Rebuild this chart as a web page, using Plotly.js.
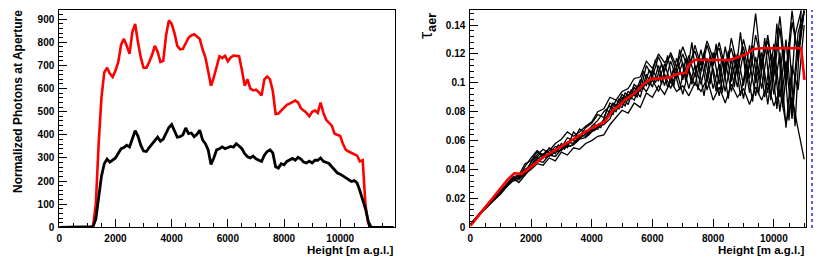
<!DOCTYPE html>
<html>
<head>
<meta charset="utf-8">
<script src="https://cdn.plot.ly/plotly-3.0.1.min.js"></script>
<style>
html,body{margin:0;padding:0;background:#fff;}
#plot{width:822px;height:261px;}
</style>
</head>
<body>
<div id="plot"></div>
<script>
// ---------- Left panel: normalized photons vs height ----------
const photonHeight = [
0,100,200,300,400,500,600,700,800,900,1000,1100,
1200,1300,1400,1500,1600,1700,1800,1900,2000,2100,
2200,2300,2400,2500,2600,2700,2800,2900,3000,3100,
3200,3300,3400,3500,3600,3700,3800,3900,4000,4100,
4200,4300,4400,4500,4600,4700,4800,4900,5000,5100,
5200,5300,5400,5500,5600,5700,5800,5900,6000,6100,
6200,6300,6400,6500,6600,6700,6800,6900,7000,7100,
7200,7300,7400,7500,7600,7700,7800,7900,8000,8100,
8200,8300,8400,8500,8600,8700,8800,8900,9000,9100,
9200,9300,9400,9500,9600,9700,9800,9900,10000,10100,
10200,10300,10400,10500,10600,10700,10800,10900,11000,11100,
11200,11300,11400,11500,11600,11700,11800,11900
];
const photonsRed = [
0,0,0,0,0,0,0,0,0,0,0,0,
5,100,360,560,670,690,665,650,678,715,
790,815,785,750,845,880,800,735,690,690,
715,745,785,760,715,720,830,895,880,840,
785,770,772,795,820,830,835,825,815,770,
735,675,612,648,690,740,732,742,718,735,
743,742,740,680,612,640,600,592,595,585,
570,640,652,640,590,490,492,505,520,530,
535,542,548,540,515,505,495,480,500,505,
495,540,495,465,452,440,405,400,395,360,
335,328,322,318,310,285,290,95,15,0,
0,0,0,0,0,0,0,0
];
const photonsBlack = [
0,0,0,0,0,0,0,0,0,0,0,0,
3,35,120,220,275,295,282,292,300,320,
340,345,355,348,380,418,395,355,330,328,
345,362,375,390,372,382,410,432,445,415,
390,392,400,430,405,408,392,402,420,378,
362,335,272,300,335,340,348,340,345,350,
347,362,352,340,318,305,300,308,296,290,
285,312,328,335,322,262,256,275,270,285,
292,298,290,303,295,282,278,286,278,290,
290,300,285,282,276,262,248,235,230,222,
212,205,198,202,192,158,120,80,25,0,
0,0,0,0,0,0,0,0
];

// ---------- Right panel: tau_aer vs height ----------
const tauHeight = [
0,200,400,600,800,1000,1200,1400,1600,1800,
2000,2200,2400,2600,2800,3000,3200,3400,3600,3800,
4000,4200,4400,4600,4800,5000,5200,5400,5600,5800,
6000,6200,6400,6600,6800,7000,7200,7400,7600,7800,
8000,8200,8400,8600,8800,9000,9200,9400,9600,9800,
10000,10200,10400,10600,10800,11000
];
const tauHeightOdd = [
100,300,500,700,900,1100,1300,1500,1700,1900,
2100,2300,2500,2700,2900,3100,3300,3500,3700,3900,
4100,4300,4500,4700,4900,5100,5300,5500,5700,5900,
6100,6300,6500,6700,6900,7100,7300,7500,7700,7900,
8100,8300,8500,8700,8900,9100,9300,9500,9700,9900,
10100,10300,10500,10700,10900
];
const tauA = [
0.002,0.007,0.012,0.017,0.021,0.025,0.030,0.035,0.036,0.044,
0.046,0.052,0.049,0.055,0.051,0.058,0.055,0.066,0.062,0.069,
0.072,0.078,0.076,0.086,0.083,0.092,0.088,0.099,0.094,0.112,
0.104,0.118,0.108,0.121,0.111,0.125,0.113,0.122,0.108,0.126,
0.112,0.128,0.110,0.124,0.106,0.130,0.112,0.148,0.109,0.133,
0.104,0.138,0.098,0.142,0.120,0.150
];
const tauB = [
0.002,0.006,0.011,0.015,0.019,0.023,0.028,0.032,0.033,0.037,
0.040,0.044,0.043,0.048,0.046,0.052,0.050,0.055,0.054,0.058,
0.060,0.063,0.064,0.071,0.076,0.081,0.079,0.086,0.083,0.093,
0.090,0.098,0.092,0.101,0.094,0.098,0.091,0.100,0.094,0.103,
0.088,0.097,0.086,0.099,0.090,0.096,0.085,0.097,0.088,0.100,
0.084,0.095,0.072,0.090,0.068,0.047
];
const tauC = [
0.002,0.007,0.011,0.016,0.020,0.024,0.029,0.034,0.035,0.040,
0.043,0.047,0.051,0.049,0.054,0.053,0.059,0.058,0.064,0.063,
0.068,0.068,0.074,0.079,0.088,0.085,0.094,0.091,0.102,0.098,
0.109,0.101,0.113,0.100,0.117,0.102,0.119,0.104,0.123,0.102,
0.121,0.099,0.125,0.101,0.120,0.098,0.126,0.100,0.121,0.093,
0.127,0.090,0.130,0.080,0.135,0.150
];
const tauD = [
0.002,0.006,0.011,0.016,0.020,0.024,0.028,0.033,0.034,0.038,
0.045,0.050,0.054,0.051,0.056,0.055,0.062,0.060,0.068,0.065,
0.070,0.074,0.080,0.084,0.080,0.090,0.085,0.097,0.090,0.106,
0.097,0.112,0.098,0.115,0.103,0.114,0.096,0.112,0.099,0.117,
0.096,0.113,0.094,0.116,0.097,0.121,0.093,0.118,0.096,0.124,
0.092,0.121,0.069,0.112,0.095,0.140
];
const tauE = [
0.002,0.007,0.012,0.016,0.021,0.025,0.029,0.034,0.031,0.036,
0.041,0.046,0.045,0.050,0.049,0.054,0.056,0.057,0.061,0.062,
0.066,0.070,0.071,0.075,0.085,0.083,0.092,0.088,0.099,0.094,
0.102,0.094,0.106,0.096,0.108,0.092,0.109,0.098,0.117,0.095,
0.110,0.091,0.115,0.094,0.112,0.089,0.114,0.091,0.117,0.085,
0.118,0.080,0.115,0.075,0.125,0.150
];
const tauF = [
0.002,0.006,0.011,0.015,0.020,0.024,0.029,0.033,0.034,0.042,
0.048,0.053,0.050,0.053,0.058,0.061,0.066,0.063,0.066,0.070,
0.073,0.080,0.082,0.090,0.088,0.094,0.096,0.103,0.104,0.115,
0.110,0.120,0.114,0.119,0.107,0.120,0.108,0.126,0.112,0.129,
0.117,0.124,0.105,0.131,0.111,0.125,0.103,0.133,0.114,0.129,
0.110,0.146,0.105,0.150,0.115,0.150
];
const tauG = [
0.004,0.009,0.014,0.018,0.022,0.027,0.031,0.035,0.037,0.041,
0.049,0.047,0.053,0.050,0.057,0.054,0.061,0.059,0.066,0.064,
0.071,0.069,0.081,0.078,0.089,0.084,0.095,0.090,0.108,0.098,
0.116,0.099,0.119,0.097,0.123,0.101,0.128,0.095,0.121,0.099,
0.127,0.093,0.122,0.097,0.135,0.100,0.126,0.092,0.131,0.088,
0.141,0.083,0.128,0.070,0.150
];
const tauH = [
0.004,0.009,0.013,0.018,0.022,0.026,0.031,0.034,0.036,0.039,
0.046,0.051,0.048,0.054,0.052,0.057,0.056,0.060,0.063,0.066,
0.067,0.072,0.077,0.086,0.082,0.093,0.089,0.098,0.096,0.109,
0.100,0.113,0.097,0.110,0.095,0.117,0.099,0.114,0.091,0.119,
0.094,0.118,0.089,0.121,0.091,0.113,0.087,0.122,0.090,0.120,
0.082,0.125,0.074,0.133,0.150
];
const modelHeight = [0,1230,1450,1700,2000,2440,2990,3540,3980,4420,4580,4750,4910,5080,5410,5740,5960,6560,6780,7110,7190,7390,8540,8870,9140,9310,9580,10900,11010];
const modelTau    = [0.001,0.033,0.0374,0.037,0.042,0.049,0.0558,0.0627,0.0685,0.0731,0.0777,0.0824,0.084,0.088,0.0927,0.0997,0.1027,0.1036,0.106,0.107,0.1123,0.1158,0.1158,0.118,0.1204,0.1232,0.1239,0.1239,0.102];

const tauEvenCurves = [tauA, tauB, tauC, tauD, tauE, tauF];
const tauOddCurves = [tauG, tauH];

const FONT = 'Liberation Sans, Arial, Helvetica, sans-serif';

const traces = [];
traces.push({x: photonHeight, y: photonsRed, xaxis:'x', yaxis:'y', mode:'lines',
  line:{color:'#ff0000', width:2.6}, hoverinfo:'skip'});
traces.push({x: photonHeight, y: photonsBlack, xaxis:'x', yaxis:'y', mode:'lines',
  line:{color:'#000000', width:2.8}, hoverinfo:'skip'});
tauEvenCurves.forEach(c => traces.push({x: tauHeight, y: c, xaxis:'x2', yaxis:'y2', mode:'lines',
  line:{color:'#000000', width:1.3}, hoverinfo:'skip'}));
tauOddCurves.forEach(c => traces.push({x: tauHeightOdd, y: c, xaxis:'x2', yaxis:'y2', mode:'lines',
  line:{color:'#000000', width:1.3}, hoverinfo:'skip'}));
traces.push({x: modelHeight, y: modelTau, xaxis:'x2', yaxis:'y2', mode:'lines',
  line:{color:'#ff0000', width:2.6}, hoverinfo:'skip'});

function axisBase(extra){
  return Object.assign({
    showline:true, mirror:true, linecolor:'#000', linewidth:1,
    ticks:'inside', ticklen:8, tickwidth:1, tickcolor:'#000',
    showgrid:false, zeroline:false, ticklabelstandoff:2,
    exponentformat:'none', separatethousands:false,
    tickfont:{family:FONT, size:10, color:'#000', weight:'bold'}
  }, extra);
}

const yDom = [1-227.3/261, 1-10/261];

const layout = {
  width:822, height:261,
  margin:{l:0, r:0, t:0, b:0},
  paper_bgcolor:'#fff', plot_bgcolor:'#fff',
  showlegend:false,
  xaxis: axisBase({domain:[59.3/822, 395/822], range:[0,11950], tick0:0, dtick:2000, tickformat:'d', anchor:'y',
    minor:{dtick:500, ticks:'inside', ticklen:4, tickcolor:'#000', tickwidth:1}}),
  yaxis: axisBase({domain:yDom, range:[0,940], tick0:0, dtick:100, anchor:'x',
    minor:{dtick:20, ticks:'inside', ticklen:4, tickcolor:'#000', tickwidth:1}}),
  xaxis2: axisBase({domain:[470.3/822, 806/822], range:[0,11060], tick0:0, dtick:2000, tickformat:'d', anchor:'y2',
    minor:{dtick:500, ticks:'inside', ticklen:4, tickcolor:'#000', tickwidth:1}}),
  yaxis2: axisBase({domain:yDom, range:[0,0.1504], tick0:0, dtick:0.02, anchor:'x2',
    minor:{dtick:0.004, ticks:'inside', ticklen:4, tickcolor:'#000', tickwidth:1}}),
  annotations:[
    {text:'<b>Normalized Photons at Aperture</b>', textangle:-90, showarrow:false,
     xref:'paper', x:17.5/822, xanchor:'center', yref:'paper', y:1-8/261, yanchor:'top',
     font:{family:FONT, size:12, color:'#000'}},
    {text:'<b>Height [m a.g.l.]</b>', showarrow:false,
     xref:'x domain', x:1, xanchor:'right', yref:'paper', y:1-250/261, yanchor:'middle',
     font:{family:FONT, size:11.5, color:'#000'}},
    {text:'<b>Height [m a.g.l.]</b>', showarrow:false,
     xref:'x2 domain', x:1, xanchor:'right', yref:'paper', y:1-250/261, yanchor:'middle',
     font:{family:FONT, size:11.5, color:'#000'}},
    {text:'τ<sub><b>aer</b></sub>', textangle:-90, showarrow:false,
     xref:'paper', x:427/822, xanchor:'center', yref:'paper', y:1-11/261, yanchor:'top',
     font:{family:FONT, size:18, color:'#000'}}
  ],
  shapes:[
    {type:'line', xref:'paper', yref:'paper', x0:812/822, x1:812/822, y0:1-228/261, y1:1-10/261,
     line:{color:'#5c5cf0', width:2, dash:'dot'}}
  ]
};

Plotly.newPlot('plot', traces, layout, {staticPlot:true, displayModeBar:false});
</script>
</body>
</html>
